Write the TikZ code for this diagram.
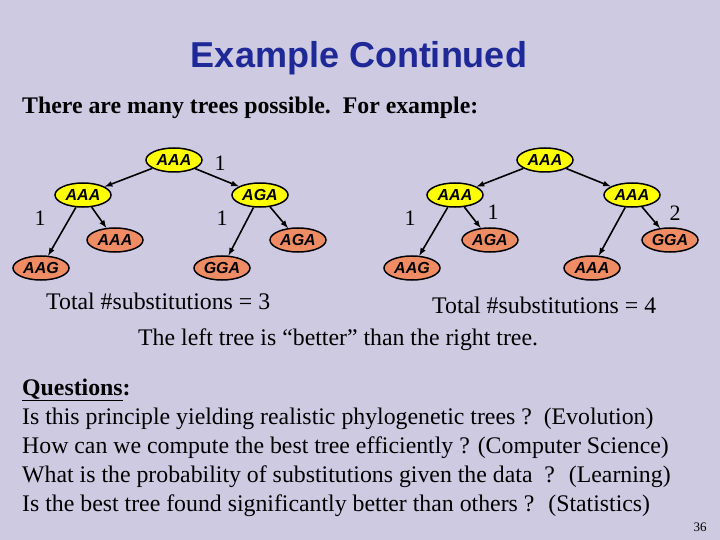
\documentclass[tikz,border=0pt]{standalone}
\usepackage{fontspec}
\setmainfont{Liberation Serif}
\setsansfont{Liberation Sans}
\definecolor{bg}{RGB}{206,202,226}
\definecolor{ttl}{RGB}{30,40,150}
\definecolor{yel}{RGB}{255,255,0}
\definecolor{org}{RGB}{240,140,100}
\begin{document}
\begin{tikzpicture}[x=1pt,y=-1pt,
  nd/.style={ellipse,draw,line width=1.5pt,minimum width=56pt,minimum height=24pt,inner sep=0pt,font=\sffamily\itshape\bfseries\fontsize{16}{16}\selectfont},
  inn/.style={nd,fill=yel},
  lf/.style={nd,fill=org},
  ar/.style={-latex,line width=1.6pt},
  num/.style={font=\fontsize{22}{22}\selectfont},
  txt/.style={anchor=west,font=\fontsize{23.8}{23.8}\selectfont,inner sep=0pt}]
\usetikzlibrary{shapes.geometric}
\fill[bg] (0,0) rectangle (720,540);
\node[font=\sffamily\bfseries\fontsize{36}{36}\selectfont,text=ttl] (title) at (359,58) {Example Continued};
\node[txt,font=\bfseries\fontsize{23.8}{23.8}\selectfont] (intro) at (22,108) {There are many trees possible.\ \ For example:};
% left tree
\node[inn] (r1) at (174,160) {AAA};
\node[inn] (a1) at (83,195) {AAA};
\node[inn] (b1) at (260,195) {AGA};
\node[lf] (c1) at (41,268) {AAG};
\node[lf] (d1) at (115,240) {AAA};
\node[lf] (e1) at (222,268) {GGA};
\node[lf] (f1) at (298,240) {AGA};
\draw[ar] (r1) -- (a1);
\draw[ar] (r1) -- (b1);
\draw[ar] (a1) -- (c1);
\draw[ar] (a1) -- (d1);
\draw[ar] (b1) -- (e1);
\draw[ar] (b1) -- (f1);
\node[num] (n1) at (220,163) {1};
\node[num] (n2) at (40,218) {1};
\node[num] (n3) at (222,218) {1};
% right tree
\node[inn] (r2) at (545,160) {AAA};
\node[inn] (a2) at (455,195) {AAA};
\node[inn] (b2) at (632,195) {AAA};
\node[lf] (c2) at (412,268) {AAG};
\node[lf] (d2) at (490,240) {AGA};
\node[lf] (e2) at (592,268) {AAA};
\node[lf] (f2) at (670,240) {GGA};
\draw[ar] (r2) -- (a2);
\draw[ar] (r2) -- (b2);
\draw[ar] (a2) -- (c2);
\draw[ar] (a2) -- (d2);
\draw[ar] (b2) -- (e2);
\draw[ar] (b2) -- (f2);
\node[num] (n4) at (410,218) {1};
\node[num] (n5) at (493,212) {1};
\node[num] (n6) at (675,213) {2};
% captions
\node[txt] (t1) at (46,301) {Total \#substitutions = 3};
\node[txt] (t2) at (432,305) {Total \#substitutions = 4};
\node[txt] (t3) at (138,340) {The left tree is “better” than the right tree.};
\node[txt] (q0) at (22,390) {\bfseries\underline{Questions}:};
\node[txt] (q1) at (22,419) {Is this principle yielding realistic phylogenetic trees ?\ \ (Evolution)};
\node[txt] (q2) at (22,448) {How can we compute the best tree efficiently ? (Computer Science)};
\node[txt] (q3) at (22,477) {What is the probability of substitutions given the data\ \ ? \ (Learning)};
\node[txt] (q4) at (22,506) {Is the best tree found significantly better than others ? \ (Statistics)};
\node[font=\fontsize{13}{13}\selectfont] (pg) at (700,527) {36};
\end{tikzpicture}
\end{document}
